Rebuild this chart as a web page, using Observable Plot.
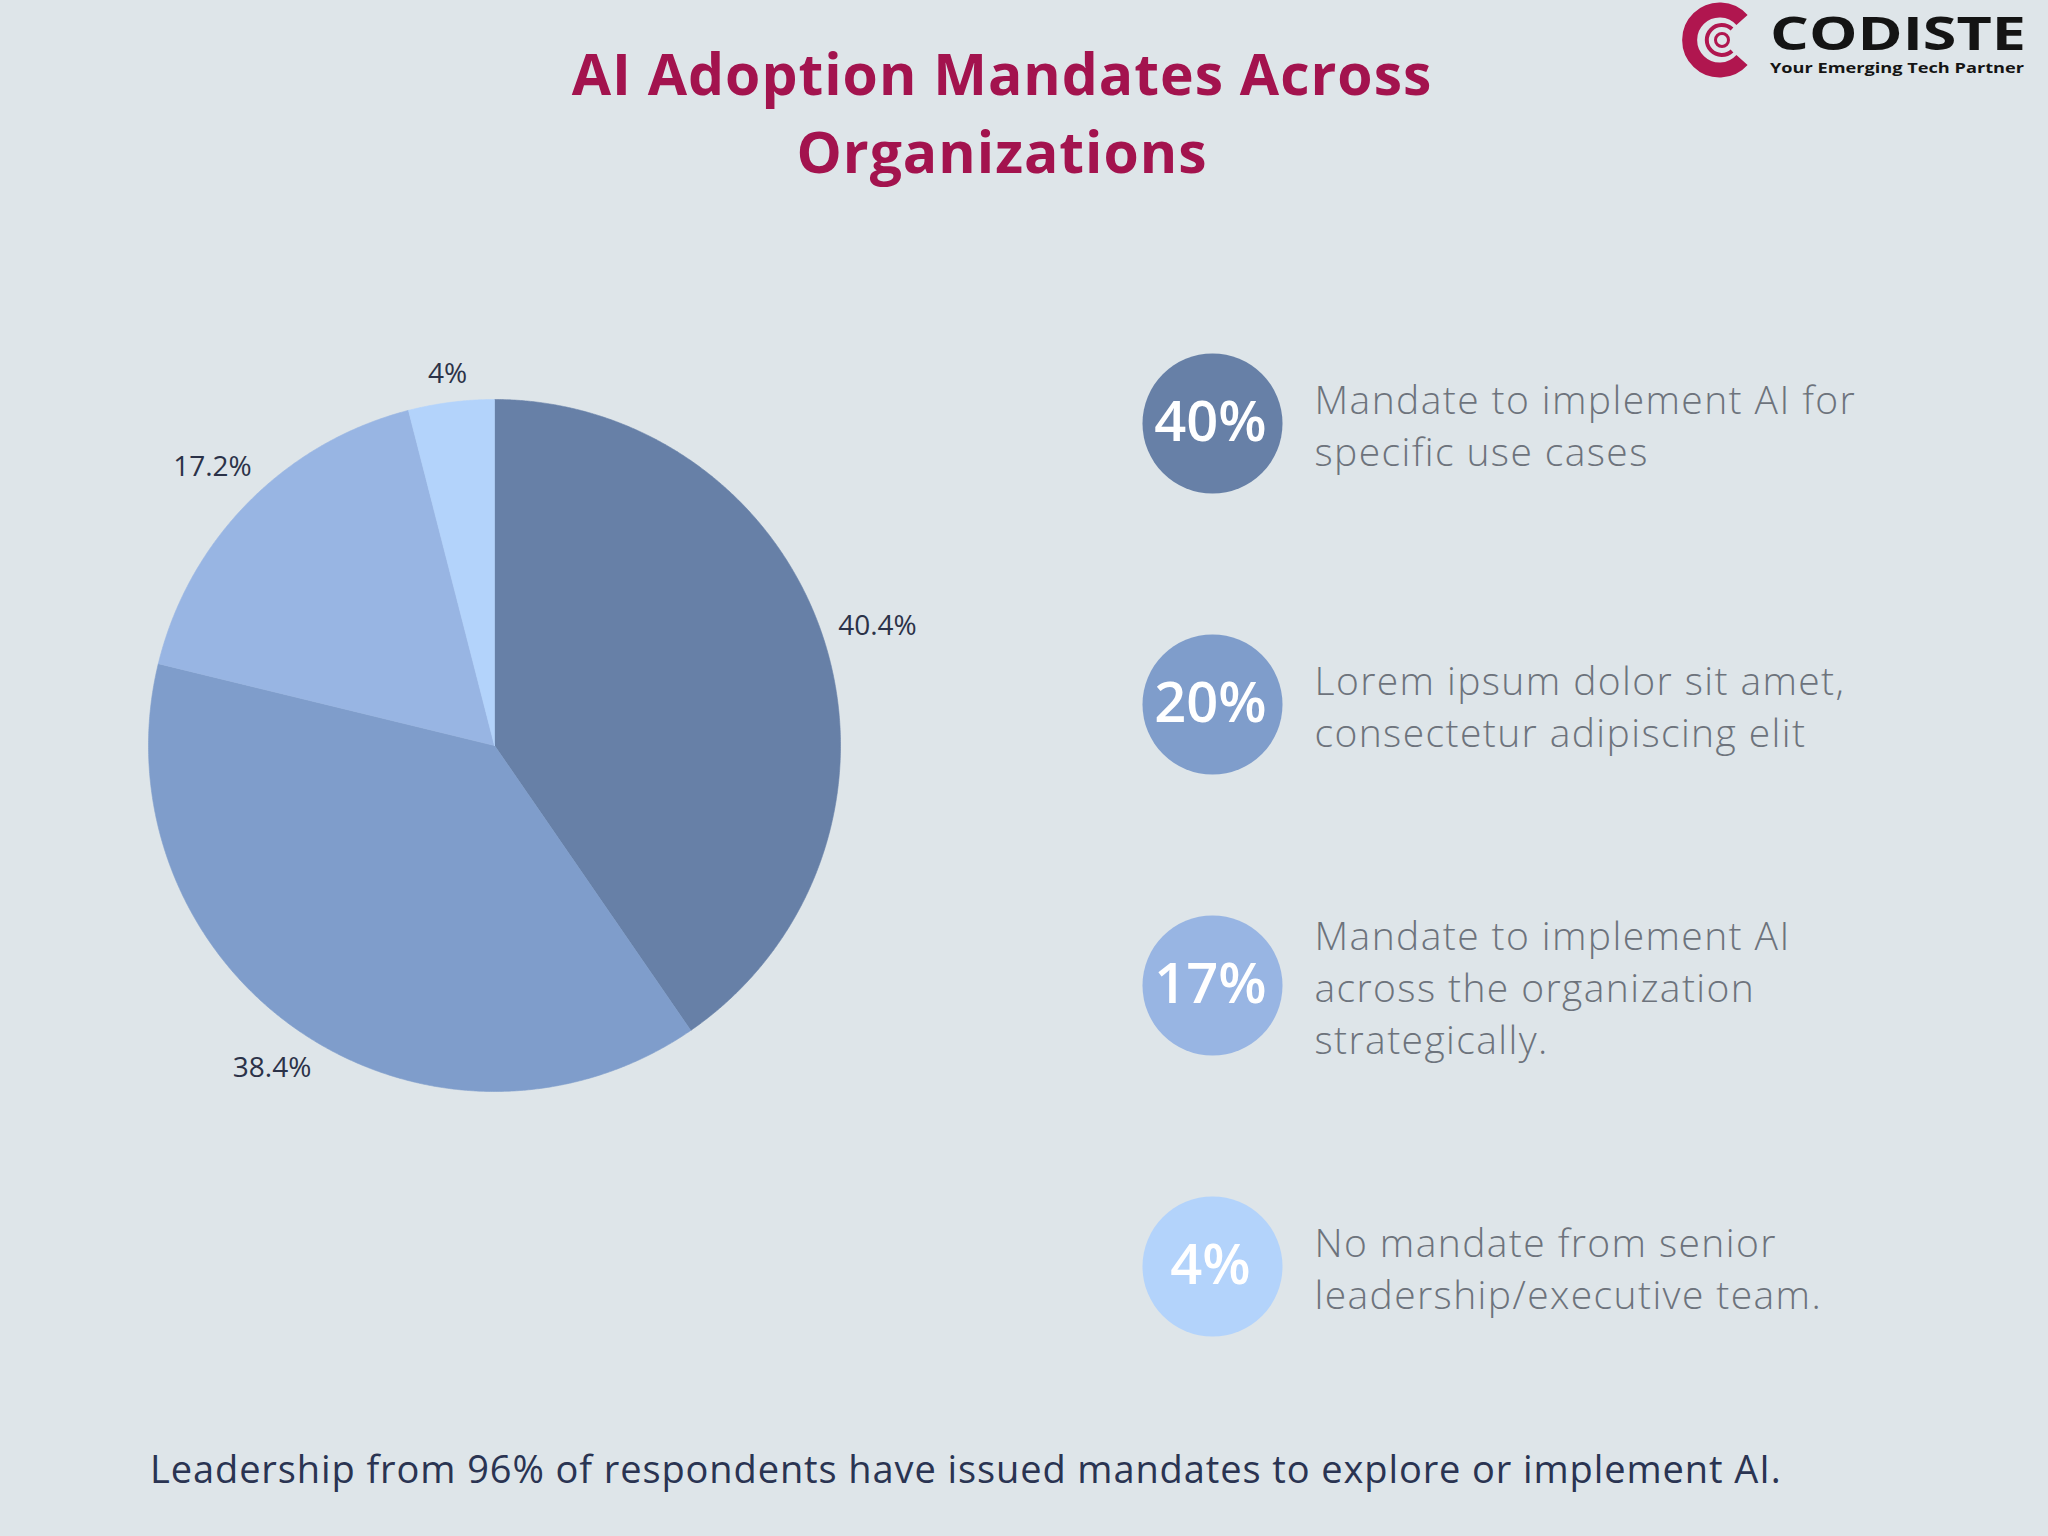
<!DOCTYPE html>
<html><head><meta charset="utf-8">
<script src="https://cdn.jsdelivr.net/npm/d3@7"></script>
<script src="https://cdn.jsdelivr.net/npm/@observablehq/plot@0.6"></script>
<style>
html,body{margin:0;padding:0;}
body{width:2048px;height:1536px;background:#dee5e9;position:relative;overflow:hidden;font-family:"Open Sans",sans-serif;}
#title{position:absolute;left:0;width:2004px;top:34px;text-align:center;color:#a3134e;font-weight:700;font-size:57px;letter-spacing:1px;line-height:78px;margin:0;}
#logo{position:absolute;left:1680px;top:0;}
#pie{position:absolute;left:0;top:295px;}
#legend{position:absolute;left:1100px;top:282px;}
#footer{position:absolute;left:150px;top:1443px;font-size:38px;letter-spacing:0.9px;line-height:50px;color:#2a3452;font-weight:400;margin:0;white-space:nowrap;}
svg{overflow:visible;}
</style></head>
<body>
<h1 id="title">AI Adoption Mandates Across<br>Organizations</h1>
<svg id="logo" width="368" height="90" viewBox="0 0 368 90">
  <path d="M 62 20 A 30 30 0 1 0 62 60" fill="none" stroke="#b0164f" stroke-width="15"/>
  <path d="M 52 29 A 15 15 0 1 0 52 51" fill="none" stroke="#b0164f" stroke-width="4"/>
  <circle cx="42" cy="40" r="6.5" fill="none" stroke="#b0164f" stroke-width="3"/>
  <text x="90" y="50" font-family="Open Sans" font-weight="700" font-size="46" fill="#141414" textLength="256" lengthAdjust="spacingAndGlyphs">CODISTE</text>
  <text x="90" y="73" font-family="Open Sans" font-weight="700" font-size="15" fill="#141414" textLength="254" lengthAdjust="spacingAndGlyphs">Your Emerging Tech Partner</text>
</svg>
<div id="pie"></div>
<div id="legend"></div>
<p id="footer">Leadership from 96% of respondents have issued mandates to explore or implement AI.</p>
<script>
const categories = [
  "Mandate to implement AI for specific use cases",
  "Lorem ipsum dolor sit amet, consectetur adipiscing elit",
  "Mandate to implement AI across the organization strategically.",
  "No mandate from senior leadership/executive team."
];
const pieValues = [40.4, 38.4, 17.2, 4];
const pieLabels = ["40.4%", "38.4%", "17.2%", "4%"];
const legendValues = ["40%", "20%", "17%", "4%"];
const legendLines = [
  "Mandate to implement AI for\nspecific use cases",
  "Lorem ipsum dolor sit amet,\nconsectetur adipiscing elit",
  "Mandate to implement AI\nacross the organization\nstrategically.",
  "No mandate from senior\nleadership/executive team."
];
const colors = ["#6780a7", "#7f9dcb", "#98b5e3", "#b3d3fb"];

const R_PX = 346;
const arcs = d3.pie().sort(null).value(d => d)(pieValues);
const wedges = [];
arcs.forEach((a, i) => {
  const n = Math.max(2, Math.ceil((a.endAngle - a.startAngle) / 0.005));
  wedges.push({cat: categories[i], x: 0, y: 0});
  for (let k = 0; k <= n; k++) {
    const t = a.startAngle + (a.endAngle - a.startAngle) * k / n;
    wedges.push({cat: categories[i], x: Math.sin(t), y: Math.cos(t)});
  }
  wedges.push({cat: categories[i], x: 0, y: 0});
});

const ctx = document.createElement("canvas").getContext("2d");
ctx.font = "28px 'Open Sans'";
const labelData = arcs.map((a, i) => {
  const m = (a.startAngle + a.endAngle) / 2;
  const hw = ctx.measureText(pieLabels[i]).width / 2;
  const hh = 12;
  const r = 1 + (14 + Math.abs(Math.sin(m)) * hw + Math.abs(Math.cos(m)) * hh) / R_PX;
  return {label: pieLabels[i], x: r * Math.sin(m), y: r * Math.cos(m)};
});

const pie = Plot.plot({
  width: 988, height: 900,
  marginLeft: 148, marginRight: 148, marginTop: 104, marginBottom: 104,
  x: {domain: [-1, 1], axis: null},
  y: {domain: [-1, 1], axis: null},
  color: {domain: categories, range: colors},
  style: {background: "transparent", fontFamily: "Open Sans", overflow: "visible"},
  marks: [
    Plot.line(wedges, {x: "x", y: "y", z: "cat", fill: "cat", stroke: "cat", strokeWidth: 0.6, curve: "linear"}),
    Plot.text(labelData, {x: "x", y: "y", text: "label", fontSize: 28, fill: "#2b3248"})
  ]
});
document.getElementById("pie").append(pie);

const legendData = categories.map((c, i) => ({cat: c, value: legendValues[i], desc: legendLines[i]}));
const legend = Plot.plot({
  width: 948, height: 1125,
  marginLeft: 42, marginRight: 766, marginTop: 140, marginBottom: 140,
  y: {type: "point", domain: categories, padding: 0, axis: null},
  color: {domain: categories, range: colors},
  style: {background: "transparent", fontFamily: "Open Sans", overflow: "visible"},
  marks: [
    Plot.dot(legendData, {y: "cat", r: 70, fill: "cat"}),
    Plot.text(legendData, {y: "cat", text: "value", fill: "white", fontSize: 56, fontWeight: 600, dx: -2}),
    Plot.text(legendData, {y: "cat", text: "desc", dx: 102, textAnchor: "start", fontSize: 39, fontWeight: 300, fill: "#6d737c", lineHeight: 1.34})
  ]
});
d3.select(legend).selectAll("tspan").style("letter-spacing", "1.4px");
document.getElementById("legend").append(legend);
</script>
</body></html>
